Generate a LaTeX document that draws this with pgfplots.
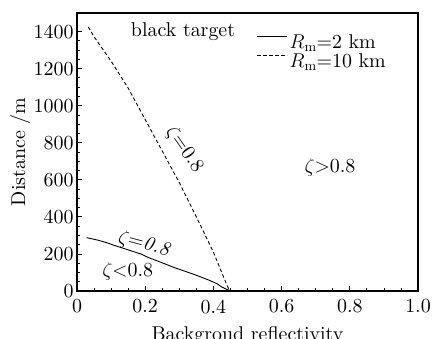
\RequirePackage{fix-cm}
\documentclass[border=0pt]{standalone}
\usepackage{fontspec}
\setmainfont{lmroman10}[Extension=.otf, UprightFont=*-regular, ItalicFont=*-italic, BoldFont=*-bold, BoldItalicFont=*-bolditalic]
\usepackage{pgfplots}
\pgfplotsset{compat=1.18}
\newcommand\tl[1]{\textrm{\fontsize{20}{24}\selectfont #1}}
\begin{document}
\begin{tikzpicture}[font=\fontsize{20}{24}\selectfont]
\begin{axis}[
  width=341bp, height=278bp, scale only axis,
  xmin=0, xmax=1, ymin=0, ymax=1500,
  xtick={0,0.2,0.4,0.6,0.8,1.0},
  xticklabels={\tl{0},\tl{0.2},\tl{0.4},\tl{0.6},\tl{0.8},\tl{1.0}},
  ytick={0,200,400,600,800,1000,1200,1400},
  yticklabels={\tl{0},\tl{200},\tl{400},\tl{600},\tl{800},\tl{1000},\tl{1200},\tl{1400}},
  minor x tick num=3, minor y tick num=3,
  tick pos=left, tick align=inside,
  major tick length=5bp, minor tick length=3bp,
  axis line style={line width=1.1pt},
  tick style={black, line width=0.8pt},
  xticklabel style={font=\fontsize{20}{24}\selectfont, yshift=-5bp},
  yticklabel style={font=\fontsize{20}{24}\selectfont},
  xlabel={Backgroud reflectivity},
  ylabel={Distance /m},
  xlabel style={font=\fontsize{20}{24}\selectfont, at={(axis description cs:0.5,-0.126)}, anchor=north, inner sep=0pt},
  ylabel style={font=\fontsize{20}{24}\selectfont, at={(axis description cs:-0.167,0.5)}, anchor=center, inner sep=0pt},
  legend style={draw=none, fill=none, at={(rel axis cs:0.912,0.93)}, anchor=north east,
    font=\fontsize{20}{24}\selectfont, row sep=0bp, inner sep=0pt},
  legend cell align=left,
  legend image code/.code={\draw[#1] (0bp,6bp) -- (30bp,6bp);},
]
\addplot[black, line width=0.9pt] coordinates {
(0.028,288) (0.06,275) (0.092,258) (0.106,248) (0.14,228) (0.19,198)
(0.205,184) (0.25,152) (0.287,125) (0.302,116) (0.35,85) (0.385,60)
(0.41,40) (0.424,22) (0.435,12) (0.444,6) (0.45,0)
};
\addlegendentry{$R_{\mathrm{m}}$=2 km}
\addplot[black, line width=0.9pt, dash pattern=on 3.5bp off 2.5bp] coordinates {
(0.033,1425) (0.05,1372) (0.1,1240) (0.15,1095) (0.2,925) (0.25,755)
(0.3,585) (0.35,400) (0.4,210) (0.44,30) (0.448,0)
};
\addlegendentry{$R_{\mathrm{m}}$=10 km}
\node at (axis cs:0.311,1400) {black target};
\node[rotate=-55] at (axis cs:0.315,762) {$\zeta$=0.8};
\node[rotate=-15] at (axis cs:0.197,252) {$\zeta$=\textit{0.8}};
\node at (axis cs:0.149,104) {$\zeta$$<$0.8};
\node at (axis cs:0.742,665) {$\zeta$$>$0.8};
\end{axis}
\pgfresetboundingbox
\path[use as bounding box] ([xshift=-77bp,yshift=-48bp]current axis.south west) rectangle ([xshift=17bp,yshift=13bp]current axis.north east);
\end{tikzpicture}
\end{document}
